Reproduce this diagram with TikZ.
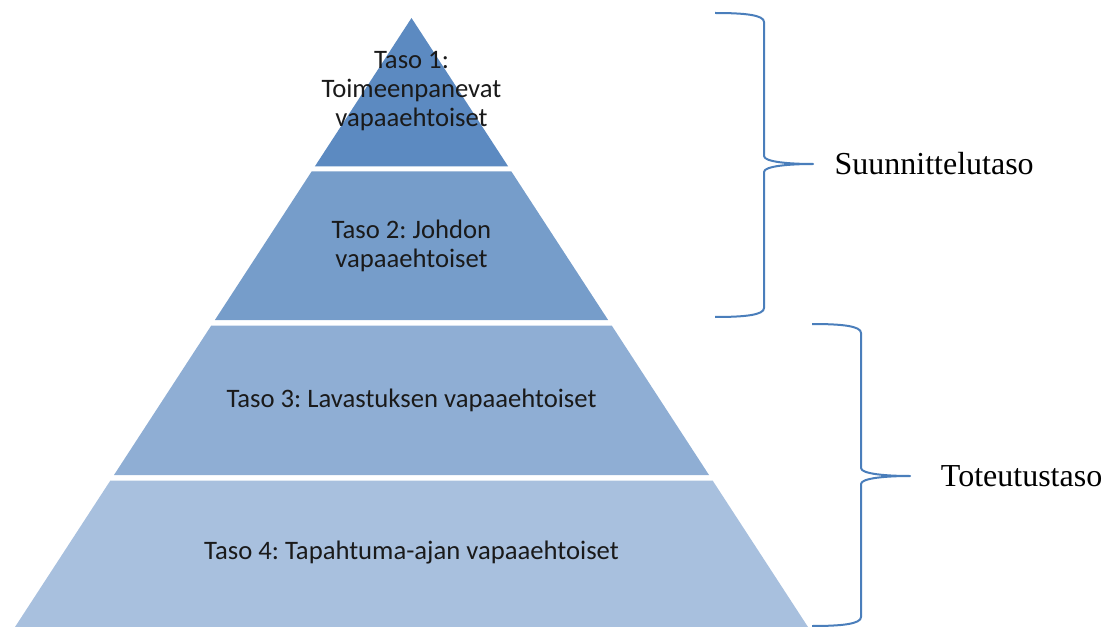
\documentclass[tikz,border=0pt]{standalone}
\usepackage{fontspec}
\setmainfont{Liberation Serif}
\newfontfamily\tasofont{Carlito}
\usetikzlibrary{positioning}
\definecolor{taso1}{RGB}{92,138,193}
\definecolor{taso2}{RGB}{118,157,202}
\definecolor{taso3}{RGB}{143,174,212}
\definecolor{taso4}{RGB}{168,192,222}
\definecolor{braceblue}{RGB}{74,126,187}
\definecolor{tasotext}{RGB}{26,26,26}
\tikzset{
  tasolabel/.style={align=center, text=tasotext, inner sep=0pt,
    font=\tasofont\fontsize{20}{22}\selectfont},
  sidelabel/.style={anchor=west, inner sep=0pt, font=\fontsize{24}{26}\selectfont},
  brace/.style={draw=braceblue, line width=1.5pt, line join=round}
}
\frenchspacing
\begin{document}
\begin{tikzpicture}[x=0.75pt, y=-0.75pt]
\useasboundingbox (0,0) rectangle (1120,627);
% pyramid layers
\fill[taso1] (411.5,18) -- (508.2,166.5) -- (314.8,166.5) -- cycle;
\fill[taso2] (311.6,171.5) -- (511.4,171.5) -- (608.1,320) -- (214.9,320) -- cycle;
\fill[taso3] (211.3,325.5) -- (611.7,325.5) -- (709,475) -- (114,475) -- cycle;
\fill[taso4] (110.4,480.5) -- (712.6,480.5) -- (808,627) -- (15,627) -- cycle;
\node[tasolabel] (taso1) at (411.5,91) {Taso 1:\\Toimeenpanevat\\vapaaehtoiset};
\node[tasolabel] (taso2) at (411.5,246) {Taso 2: Johdon\\vapaaehtoiset};
\node[tasolabel] (taso3) at (411.5,400) {Taso 3: Lavastuksen vapaaehtoiset};
\node[tasolabel] (taso4) at (411.5,553) {Taso 4: Tapahtuma-ajan vapaaehtoiset};
% braces
\coordinate (suTop) at (715,13);
\coordinate (suTip) at (813,164);
\coordinate (suBottom) at (715,317);
\draw[brace] (suTop) .. controls (745,13) and (764,15) .. (764,22) -- (764,156)
  .. controls (764,162) and (790,164) .. (suTip)
  .. controls (790,164) and (764,166) .. (764,172) -- (764,308)
  .. controls (764,315) and (745,317) .. (suBottom);
\coordinate (toTop) at (812,324);
\coordinate (toTip) at (910,476);
\coordinate (toBottom) at (812,626);
\draw[brace] (toTop) .. controls (842,324) and (861,326) .. (861,333) -- (861,468)
  .. controls (861,474) and (887,476) .. (toTip)
  .. controls (887,476) and (861,478) .. (861,484) -- (861,617)
  .. controls (861,624) and (842,626) .. (toBottom);
\node[sidelabel, right=16pt of suTip] (suunnittelu) {Suunnittelutaso};
\node[sidelabel, right=23pt of toTip] (toteutus) {Toteutustaso};
\end{tikzpicture}
\end{document}
